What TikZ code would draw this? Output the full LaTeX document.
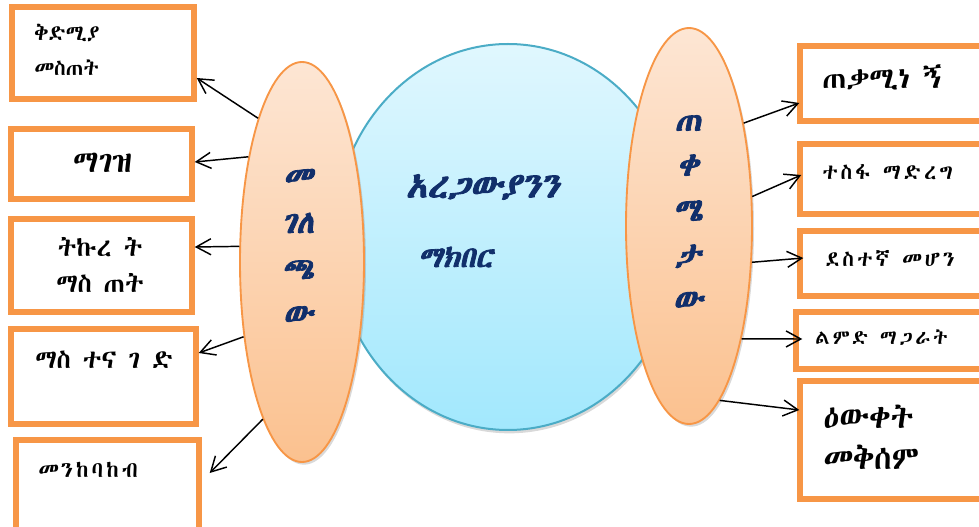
\documentclass[tikz,border=0pt]{standalone}
\usepackage{fontspec}
\usetikzlibrary{arrows.meta,shapes.geometric,shadows}
\IfFontExistsTF{Abyssinica SIL}{\def\ethname{Abyssinica SIL}}{%
  \IfFontExistsTF{FreeSerif}{\def\ethname{FreeSerif}}{%
    \IfFontExistsTF{FreeSans}{\def\ethname{FreeSans}}{\def\ethname{Noto Sans}}}}
\newfontfamily\eth{\ethname}
\newfontfamily\ethsp[LetterSpace=14]{\ethname}
\newfontfamily\ethbi[FakeBold=2.5,FakeSlant=0.2]{\ethname}
\definecolor{boxor}{HTML}{F79646}
\definecolor{elltop}{HTML}{FDE6D4}
\definecolor{ellbot}{HTML}{FBC18F}
\definecolor{cirtop}{HTML}{E0F7FE}
\definecolor{cirbot}{HTML}{A2E8FD}
\definecolor{cirline}{HTML}{4BACC6}
\definecolor{navy}{HTML}{112F6B}
\tikzset{
  box/.style={draw=boxor, line width=4.1pt, fill=white, inner sep=0pt, rectangle},
  oval/.style={ellipse, draw=boxor, line width=1.4pt, top color=elltop, bottom color=ellbot, inner sep=0pt,
     drop shadow={shadow xshift=1.5pt, shadow yshift=-2pt, opacity=0.3}},
  circ/.style={ellipse, draw=cirline, line width=1.5pt, top color=cirtop, bottom color=cirbot, inner sep=0pt,
     drop shadow={shadow xshift=1pt, shadow yshift=-2.5pt, opacity=0.3}},
  arr/.style={draw=black, line width=1.1pt, -{Straight Barb[length=11pt,width=12pt,line width=1.1pt]}},
  txt/.style={inner sep=0pt, text=black},
  btxt/.style={inner sep=0pt, text=navy, align=center}
}
\begin{document}
\begin{tikzpicture}[x=0.75pt,y=-0.75pt]
\useasboundingbox (0,0) rectangle (979,527);
\clip (0,0) rectangle (979,527);
% central circle
\node[circ, minimum width=261pt, minimum height=289.5pt] (c) at (508,237) {};
% ellipses
\node[oval, minimum width=93pt, minimum height=300pt] (le) at (302,262) {};
\node[oval, minimum width=94.5pt, minimum height=297pt] (re) at (689,226) {};
% boxes left
\node[box, minimum width=136.5pt, minimum height=69pt] (lb1) at (103,53) {};
\node[box, minimum width=135.75pt, minimum height=52.5pt] (lb2) at (101.5,164) {};
\node[box, minimum width=135.75pt, minimum height=69.75pt] (lb3) at (101.5,265.5) {};
\node[box, minimum width=138.75pt, minimum height=71.25pt] (lb4) at (103.5,376.5) {};
\node[box, minimum width=137.25pt, minimum height=71.25pt] (lb5) at (107.5,487.5) {};
% boxes right
\node[box, minimum width=142.5pt, minimum height=56.25pt] (rb1) at (895,83.5) {};
\node[box, minimum width=142.5pt, minimum height=52.5pt] (rb2) at (895,179) {};
\node[box, minimum width=142.5pt, minimum height=48.75pt] (rb3) at (895,263.5) {};
\node[box, minimum width=145.5pt, minimum height=42.75pt] (rb4) at (893,340.5) {};
\node[box, minimum width=142.5pt, minimum height=88.5pt] (rb5) at (895,440) {};
% texts left
\node[txt, anchor=west, font=\eth\fontsize{16}{19}\selectfont] (t1a) at (34,33) {ቅድሚያ};
\node[txt, anchor=west, font=\eth\fontsize{16}{19}\selectfont] (t1b) at (34,68) {መስጠት};
\node[txt, font=\eth\fontsize{23}{26}\selectfont] (t2) at (102.5,163) {ማገዝ};
\node[txt, font=\eth\fontsize{19.5}{22}\selectfont] (t3a) at (100,247) {ትኩረ ት};
\node[txt, font=\eth\fontsize{19.5}{22}\selectfont] (t3b) at (100,283) {ማስ ጠት};
\node[txt, anchor=west, font=\eth\fontsize{19.5}{22}\selectfont] (t4) at (35,360) {ማስ ተና ገ ድ};
\node[txt, anchor=west, font=\ethsp\fontsize{16.5}{19}\selectfont] (t5) at (38,470) {መንከባከብ};
% texts right
\node[txt, anchor=west, font=\eth\fontsize{22}{25}\selectfont] (r1) at (822,77) {ጠቃሚነ ኝ};
\node[txt, anchor=west, font=\ethsp\fontsize{16}{19}\selectfont] (r2) at (822,172) {ተስፋ ማድረግ};
\node[txt, anchor=west, font=\ethsp\fontsize{16}{19}\selectfont] (r3) at (825,258) {ደስተኛ መሆን};
\node[txt, anchor=west, font=\ethsp\fontsize{15}{18}\selectfont] (r4) at (815,338) {ልምድ ማጋራት};
\node[txt, anchor=west, font=\eth\fontsize{24}{27}\selectfont] (r5a) at (823,417) {ዕውቀት};
\node[txt, anchor=west, font=\eth\fontsize{24}{27}\selectfont] (r5b) at (823,457) {መቅሰም};
% center and oval texts
\node[btxt, font=\ethbi\fontsize{26}{30}\selectfont] (ct1) at (482.5,187) {አረጋውያንን};
\node[btxt, font=\ethbi\fontsize{22}{26}\selectfont] (ct2) at (455.5,257) {ማክበር};
\node[btxt, font=\ethbi\fontsize{24}{34.5}\selectfont] (lt) at (298,247) {መ\\ገለ\\ጫ\\ው};
\node[btxt, font=\ethbi\fontsize{24}{33.75}\selectfont] (rt) at (688,213) {ጠ\\ቀ\\ሜ\\ታ\\ው};
% arrows left
\draw[arr] (le.107) -- ([shift={(0,25)}]lb1.east);
\draw[arr] (le.117.5) -- ([shift={(0,-2)}]lb2.east);
\draw[arr] (le.166) -- ([shift={(0,-18.5)}]lb3.east);
\draw[arr] (le.-128.3) -- ([shift={(0,-23.5)}]lb4.east);
\draw[arr] (le.-104.2) -- ([shift={(8,-14.5)}]lb5.east);
% arrows right
\draw[arr] (re.62.7) -- ([shift={(2,19.5)}]rb1.west);
\draw[arr] (re.25) -- ([shift={(4,-4)}]rb2.west);
\draw[arr] (re.-30.9) -- ([shift={(6,-5.5)}]rb3.west);
\draw[arr] (re.-65.4) -- ([shift={(9,-1.5)}]rb4.west);
\draw[arr] (re.-80) -- ([shift={(2,-30)}]rb5.west);
\end{tikzpicture}
\end{document}
